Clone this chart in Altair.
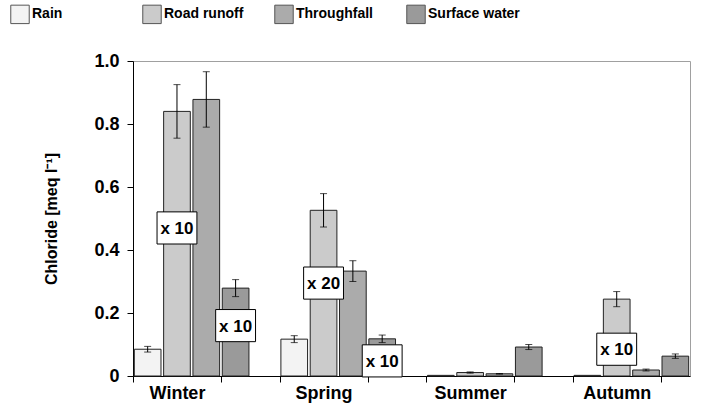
import altair as alt
import pandas as pd

# Seasonal chloride concentrations per water type
seasons = ["Winter", "Spring", "Summer", "Autumn"]
series = ["Rain", "Road runoff", "Throughfall", "Surface water"]

rain = [0.085, 0.117, 0.002, 0.002]
road_runoff = [0.840, 0.526, 0.011, 0.244]
throughfall = [0.878, 0.333, 0.007, 0.019]
surface_water = [0.279, 0.118, 0.092, 0.063]

rain_err = [0.009, 0.011, 0.0, 0.0]
road_runoff_err = [0.085, 0.053, 0.002, 0.024]
throughfall_err = [0.088, 0.033, 0.001, 0.003]
surface_water_err = [0.027, 0.012, 0.008, 0.007]

# Scale-factor callouts: season, series, text, vertical position of the box centre
note_season = ["Winter", "Winter", "Spring", "Spring", "Autumn"]
note_series = ["Road runoff", "Surface water", "Road runoff", "Surface water", "Road runoff"]
note_text = ["x 10", "x 10", "x 20", "x 10", "x 10"]
note_y = [0.470, 0.160, 0.295, 0.048, 0.085]

fills = ["#f3f3f3", "#cbcbcb", "#ababab", "#9a9a9a"]

means = [rain, road_runoff, throughfall, surface_water]
errs = [rain_err, road_runoff_err, throughfall_err, surface_water_err]

rows = []
for si, s in enumerate(seasons):
    for ki, k in enumerate(series):
        slot = si * 5 + ki
        m = means[ki][si]
        e = errs[ki][si]
        rows.append({
            "season": s, "series": k, "slot": slot,
            "x0": slot + 0.045, "x1": slot + 0.955, "xc": slot + 0.5,
            "value": m, "zero": 0.0, "lo": m - e, "hi": m + e, "has_err": e > 0,
        })
df = pd.DataFrame(rows)

slot_of = {(r["season"], r["series"]): r["slot"] for r in rows}
notes = pd.DataFrame({
    "xc": [slot_of[(s, k)] + 0.5 for s, k in zip(note_season, note_series)],
    "y": note_y,
    "label": note_text,
})
BOX_HALF_W = 0.68   # in slot units
BOX_HALF_H = 0.051  # in value units
notes["bx0"] = notes["xc"] - BOX_HALF_W
notes["bx1"] = notes["xc"] + BOX_HALF_W
notes["by0"] = notes["y"] - BOX_HALF_H
notes["by1"] = notes["y"] + BOX_HALF_H

label_expr = ("datum.value == 1.5 ? 'Winter' : datum.value == 6.5 ? 'Spring' : "
              "datum.value == 11.5 ? 'Summer' : datum.value == 16.5 ? 'Autumn' : ''")
x_ticks = list(range(20)) + [1.5, 6.5, 11.5, 16.5]

x_scale = alt.Scale(domain=[0, 19], nice=False, zero=False, padding=0)
y_scale = alt.Scale(domain=[0, 1], nice=False, padding=0)

x_axis = alt.Axis(
    values=x_ticks, labelExpr=label_expr, title=None, grid=False,
    tickSize=6, tickColor="black", domainColor="black",
    tickOpacity={"condition": {"test": "datum.value % 1 != 0", "value": 0}, "value": 1},
    labelFont="Liberation Sans", labelFontSize=18, labelFontWeight="bold",
    labelColor="black", labelPadding=2, labelOverlap=False, labelFlush=False,
)
y_axis = alt.Axis(
    values=[0, 0.2, 0.4, 0.6, 0.8, 1.0],
    labelExpr="datum.value == 0 ? '0' : format(datum.value, '.1f')",
    title="Chloride [meq l\u207b\u00b9]", grid=False,
    tickSize=6, tickColor="black", domainColor="black",
    labelFont="Liberation Sans", labelFontSize=18, labelFontWeight="bold",
    labelColor="black", labelPadding=8,
    titleFont="Liberation Sans", titleFontSize=16, titleFontWeight="bold",
    titleColor="black", titlePadding=34,
)

base = alt.Chart(df)

bars = base.mark_bar(stroke="#222222", strokeWidth=1).encode(
    x=alt.X("x0:Q", scale=x_scale, axis=x_axis),
    x2="x1:Q",
    y=alt.Y("value:Q", scale=y_scale, axis=y_axis),
    y2="zero:Q",
    color=alt.Color(
        "series:N",
        scale=alt.Scale(domain=series, range=fills),
        legend=alt.Legend(
            title=None, orient="none", direction="horizontal", columns=4,
            legendX=-123, legendY=-57, gridAlign="all", columnPadding=16,
            symbolType="square", symbolSize=340, symbolStrokeColor="#555555",
            symbolStrokeWidth=1, labelFont="Liberation Sans", labelFontSize=14,
            labelFontWeight="bold", labelColor="black", labelOffset=2,
            labelLimit=200,
        ),
    ),
)

err_src = base.transform_filter("datum.has_err")
err_rule = err_src.mark_rule(color="black", strokeWidth=1).encode(
    x="xc:Q", y="lo:Q", y2="hi:Q"
)
cap_lo = err_src.mark_tick(orient="horizontal", size=7, thickness=1, color="black").encode(
    x="xc:Q", y="lo:Q"
)
cap_hi = err_src.mark_tick(orient="horizontal", size=7, thickness=1, color="black").encode(
    x="xc:Q", y="hi:Q"
)

note_base = alt.Chart(notes)
boxes = note_base.mark_rect(fill="white", stroke="black", strokeWidth=1).encode(
    x="bx0:Q", x2="bx1:Q", y="by0:Q", y2="by1:Q"
)
box_text = note_base.mark_text(
    font="Liberation Sans", fontSize=17, fontWeight="bold", color="black",
    align="center", baseline="middle", dy=1,
).encode(x="xc:Q", y="y:Q", text="label:N")

chart = alt.layer(bars, err_rule, cap_lo, cap_hi, boxes, box_text).properties(
    width=557, height=315,
    autosize=alt.AutoSizeParams(type="none"),
    padding={"left": 133, "top": 61, "right": 24, "bottom": 40},
    background="white",
).configure_view(stroke="#a0a0a0", strokeWidth=1)

chart.save("out.html", embed_options={"renderer": "svg", "actions": False})
